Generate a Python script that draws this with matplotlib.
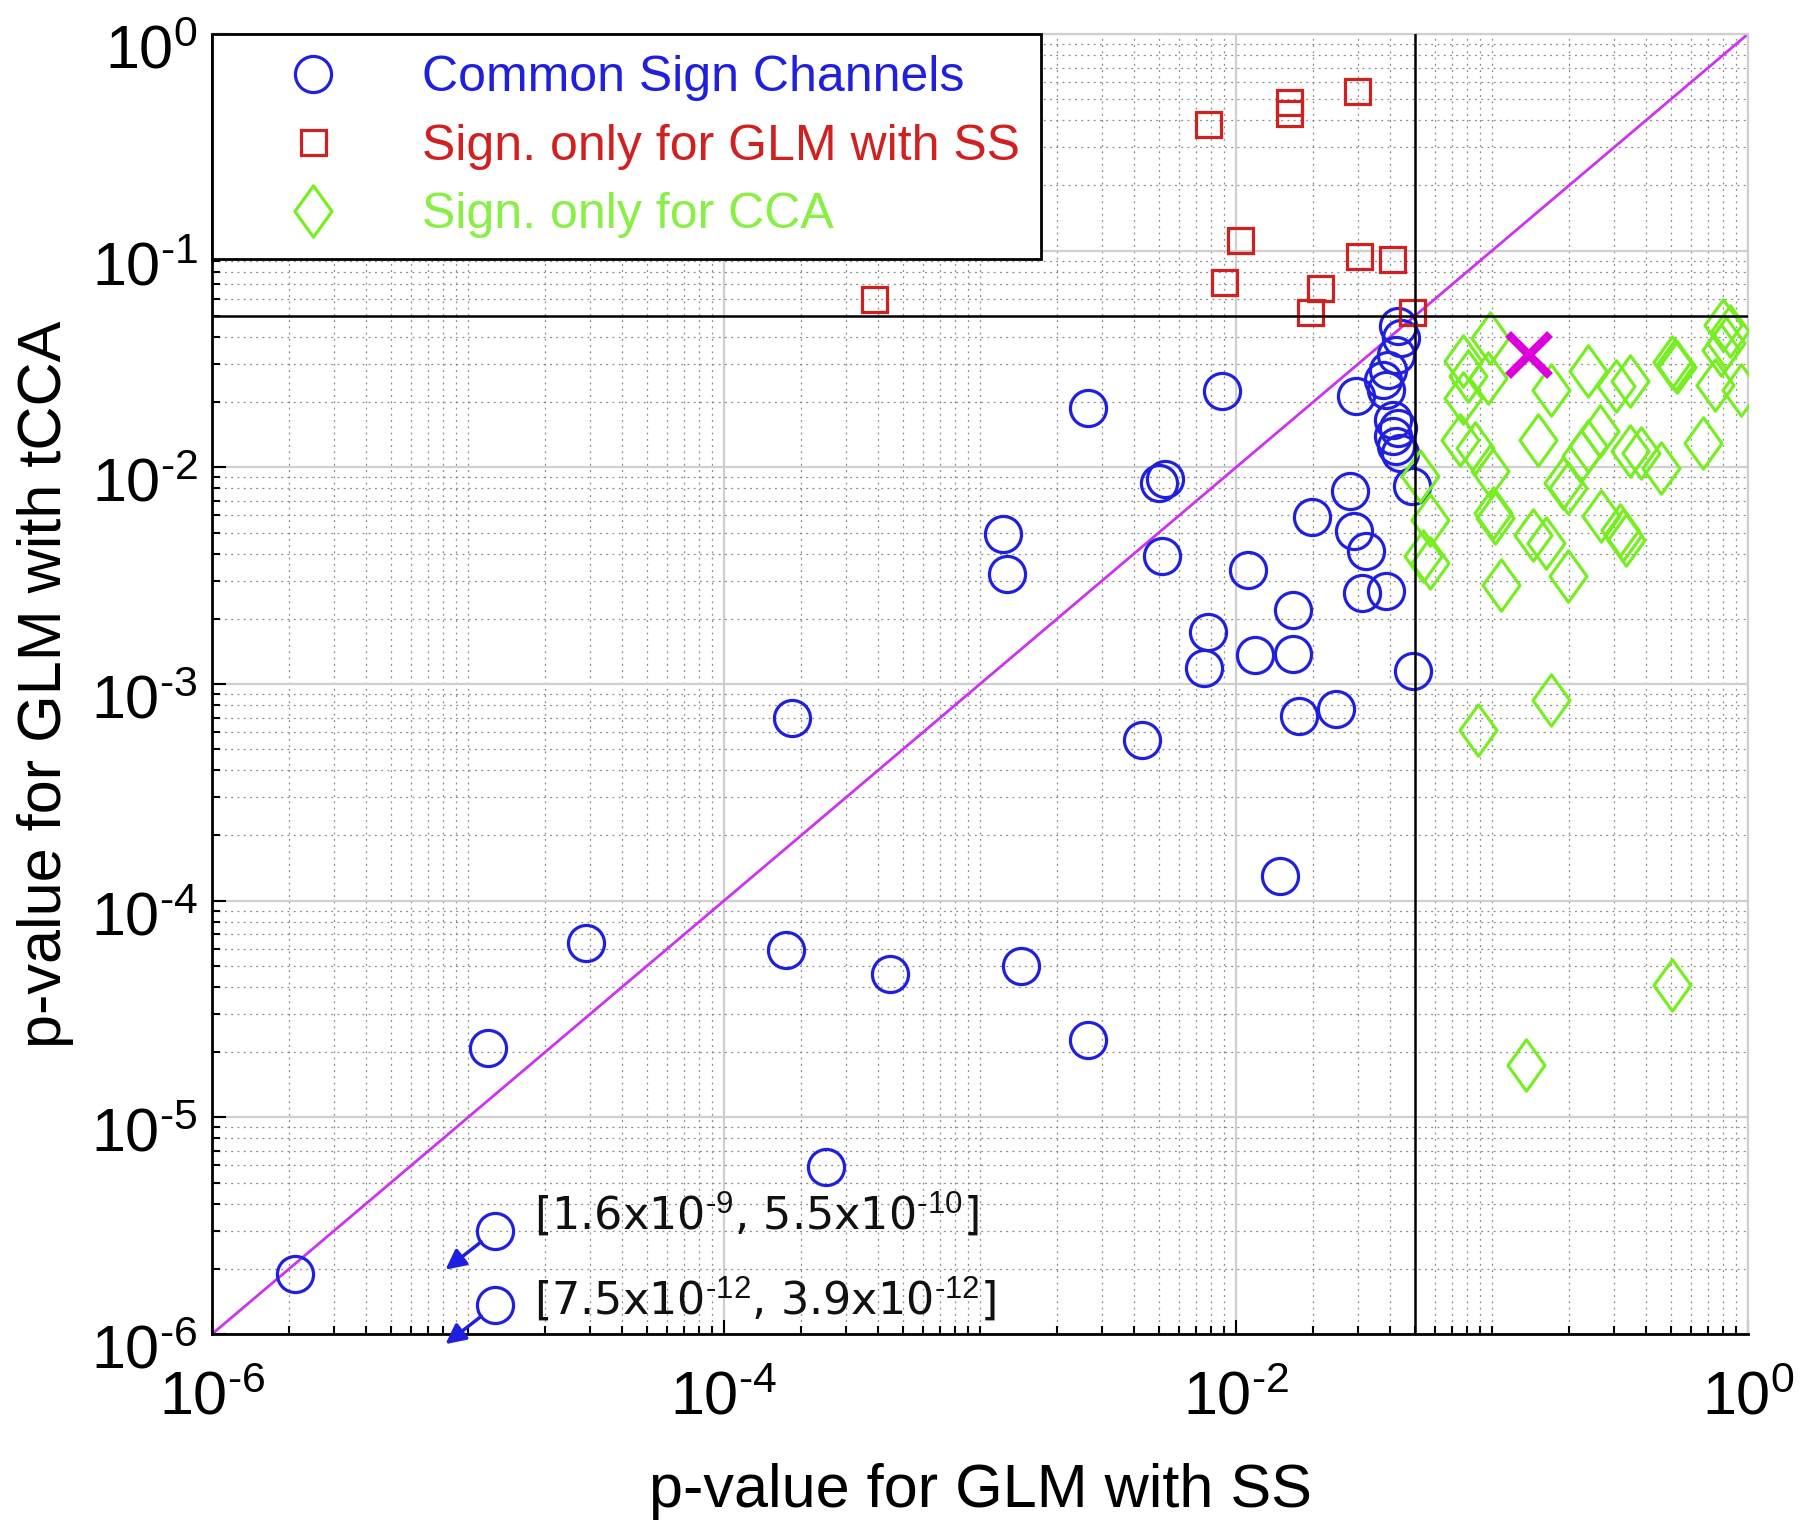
import numpy as np
import matplotlib
matplotlib.use('Agg')
import matplotlib.pyplot as plt
from matplotlib.lines import Line2D
from matplotlib.path import Path
from matplotlib.patches import FancyArrowPatch
from matplotlib.transforms import ScaledTranslation
from matplotlib.ticker import LogLocator, NullFormatter, FuncFormatter

plt.rcParams['font.family'] = ['Liberation Sans', 'DejaVu Sans']
plt.rcParams['axes.unicode_minus'] = False
plt.rcParams['mathtext.fontset'] = 'custom'
plt.rcParams['mathtext.rm'] = 'Liberation Sans'

# common significant channels (GLM with SS p-value, tCCA p-value)
common_x = [2.1e-6, 1.2e-5, 2.9e-5, 2.5e-4, 1.75e-4, 1.84e-4, 4.47e-4, 1.45e-3, 2.64e-3,
            1.23e-3, 1.28e-3, 2.64e-3, 5.0e-3, 5.27e-3, 5.14e-3, 4.28e-3, 8.8e-3, 7.8e-3,
            7.5e-3, 1.11e-2, 1.19e-2, 1.48e-2, 1.67e-2, 1.67e-2, 1.76e-2, 1.98e-2, 2.45e-2,
            2.78e-2, 2.9e-2, 3.21e-2, 3.1e-2, 3.87e-2, 4.91e-2, 4.85e-2,
            0.0430, 0.0442, 0.0423, 0.0392, 0.0375, 0.0387, 0.0295, 0.0410, 0.0430, 0.0410,
            0.0423, 0.0436]
common_y = [1.9e-6, 2.09e-5, 6.4e-5, 5.9e-6, 5.9e-5, 6.95e-4, 4.57e-5, 4.98e-5, 2.28e-5,
            4.95e-3, 3.23e-3, 1.87e-2, 8.47e-3, 8.8e-3, 3.88e-3, 5.5e-4, 2.25e-2, 1.73e-3,
            1.19e-3, 3.35e-3, 1.36e-3, 1.3e-4, 2.19e-3, 1.37e-3, 7.1e-4, 5.87e-3, 7.65e-4,
            7.78e-3, 5.07e-3, 4.12e-3, 2.63e-3, 2.69e-3, 1.15e-3, 8.2e-3,
            0.0448, 0.0396, 0.0331, 0.0282, 0.0254, 0.0228, 0.0213, 0.0166, 0.0152, 0.0139,
            0.0125, 0.0117]

# two channels far below the axis range, drawn at the edge with an arrow
offscale_x = [1.28e-5, 1.28e-5]
offscale_y = [3.0e-6, 1.36e-6]
offscale_labels = [r'[1.6x10$^{\text{-}9}$, 5.5x10$^{\text{-}10}$]',
                   r'[7.5x10$^{\text{-}12}$, 3.9x10$^{\text{-}12}$]']

# significant only for GLM with SS
glm_x = [3.87e-4, 7.8e-3, 0.0161, 0.0161, 0.0296, 0.0104, 9.0e-3, 0.0212, 0.0194,
         0.0302, 0.0407, 0.0485]
glm_y = [0.0597, 0.386, 0.487, 0.431, 0.543, 0.1125, 0.0717, 0.0674, 0.0522,
         0.0949, 0.0915, 0.0522]

# significant only for CCA
cca_x = [0.0770, 0.0805, 0.0978, 0.0964, 0.0770, 0.1703, 0.2371, 0.3059, 0.3449, 0.5058,
         0.5164, 0.5272, 0.7985, 0.848, 0.822, 0.786, 0.740, 0.9419, 0.0747, 0.0855,
         0.1511, 0.2632, 0.2371, 0.2233, 0.3449, 0.3828, 0.4585, 0.6666, 0.0978, 0.0522,
         0.1893, 0.1977, 0.0571, 0.1008, 0.1023, 0.1444, 0.1630, 0.2673, 0.3152, 0.3245,
         0.3347, 0.1977, 0.0537, 0.0571, 0.1086, 0.1697, 0.0879, 0.5028, 0.1354]
cca_y = [0.0309, 0.02635, 0.0396, 0.0259, 0.0209, 0.0228, 0.0277, 0.02366, 0.02494, 0.0305,
         0.02978, 0.02905, 0.0456, 0.0424, 0.0375, 0.0349, 0.02407, 0.0228, 0.01342, 0.01229,
         0.01342, 0.01467, 0.01252, 0.01124, 0.01185, 0.01165, 0.00993, 0.01292, 0.00958, 0.00911,
         0.00847, 0.00803, 0.00573, 0.00617, 0.00584, 0.00489, 0.00447, 0.00595, 0.00516, 0.00489,
         0.00464, 0.00314, 0.00388, 0.00362, 0.00287, 0.000846, 0.000615, 4.09e-5, 1.75e-5]

special_x = [0.140]
special_y = [0.0331]

alpha_level = 0.05

blue = '#1f1fe0'
red = '#d02020'
green = '#77ee22'
magenta = '#dd00dd'

diamond = Path([(0, 1), (0.72, 0), (0, -1), (-0.72, 0), (0, 1)],
               [Path.MOVETO, Path.LINETO, Path.LINETO, Path.LINETO, Path.CLOSEPOLY])


def pow_label(v, pos):
    e = int(round(np.log10(v)))
    if e < 0:
        return r'$\mathdefault{10^{\text{-}%d}}$' % (-e)
    return r'$\mathdefault{10^{%d}}$' % e


fig = plt.figure(figsize=(18, 15.32), dpi=100, facecolor='white')
ax = fig.add_axes([0.1178, 0.1292, 0.8533, 0.8486])
ax.set_xscale('log')
ax.set_yscale('log')
ax.set_xlim(1e-6, 1)
ax.set_ylim(1e-6, 1)

ax.xaxis.set_major_locator(LogLocator(base=100))
ax.xaxis.set_minor_locator(LogLocator(base=10, subs=np.arange(1, 10), numticks=20))
ax.yaxis.set_major_locator(LogLocator(base=10, numticks=20))
ax.yaxis.set_minor_locator(LogLocator(base=10, subs=np.arange(2, 10), numticks=20))
ax.xaxis.set_major_formatter(FuncFormatter(pow_label))
ax.yaxis.set_major_formatter(FuncFormatter(pow_label))
ax.xaxis.set_minor_formatter(NullFormatter())
ax.yaxis.set_minor_formatter(NullFormatter())

ax.grid(True, which='major', color='#cfcfcf', lw=1.6, ls='-', zorder=0)
ax.grid(True, which='minor', color='#8a8a8a', lw=0.9, ls=(0, (1.5, 3.5)), zorder=0)
ax.set_axisbelow(True)

ax.tick_params(which='both', direction='in', top=False, right=False, width=1.5)
ax.tick_params(which='major', length=10, labelsize=44)
ax.tick_params(axis='x', which='major', pad=26)
ax.tick_params(axis='y', which='major', pad=10)
ax.tick_params(which='minor', length=6)
for s in ['left', 'bottom']:
    ax.spines[s].set_linewidth(2)
    ax.spines[s].set_color('black')
for s in ['top', 'right']:
    ax.spines[s].set_linewidth(1.6)
    ax.spines[s].set_color('#cfcfcf')

ax.plot([1e-6, 1], [1e-6, 1], color='#cc33ee', lw=2, zorder=2)

ax.plot(common_x, common_y, ls='none', marker='o', ms=26, mfc='none', mec=blue, mew=2.3, zorder=3)
ax.plot(offscale_x, offscale_y, ls='none', marker='o', ms=26, mfc='none', mec=blue, mew=2.3,
        zorder=3, clip_on=False)
ax.plot(glm_x, glm_y, ls='none', marker='s', ms=18, mfc='none', mec=red, mew=2.3, zorder=3)
ax.plot(cca_x, cca_y, ls='none', marker=diamond, ms=37, mfc='none', mec=green, mew=2.3, zorder=3)
ax.plot(special_x, special_y, ls='none', marker='x', ms=30, mec=magenta, mew=6, zorder=4)

ax.axvline(alpha_level, color='black', lw=1.8, zorder=4)
ax.axhline(alpha_level, color='black', lw=1.8, zorder=4)

# arrows pointing down-left from the edge markers, plus their true values
to_data = ax.transData.inverted()
for xv, yv, lab, dy in zip(offscale_x, offscale_y, offscale_labels, [17, 6]):
    px, py = ax.transData.transform((xv, yv))
    tip = to_data.transform((px - 50, py - 39))
    ax.add_patch(FancyArrowPatch((xv, yv), tuple(tip), arrowstyle='-|>', color=blue, lw=2.5,
                                 mutation_scale=30, shrinkA=13, shrinkB=0, clip_on=False,
                                 zorder=5))
    tx, ty = to_data.transform((px + 39, py + dy))
    ax.text(tx, ty, lab, fontsize=32, family=['DejaVu Sans'], va='center', ha='left',
            color='#111111', zorder=5)

ax.set_xlabel('p-value for GLM with SS', fontsize=44, labelpad=26)
ax.set_ylabel('p-value for GLM with tCCA', fontsize=44, labelpad=12)

handles = [
    Line2D([], [], ls='none', marker='o', ms=26, mfc='none', mec=blue, mew=2.3),
    Line2D([], [], ls='none', marker='s', ms=18, mfc='none', mec=red, mew=2.3),
    Line2D([], [], ls='none', marker=diamond, ms=37, mfc='none', mec=green, mew=2.3),
]
labels = ['Common Sign Channels', 'Sign. only for GLM with SS', 'Sign. only for CCA']
leg = ax.legend(handles, labels, loc='upper left', bbox_to_anchor=(0, 1), borderaxespad=0,
                fontsize=36, frameon=True, fancybox=False, framealpha=1, edgecolor='black',
                borderpad=0.42, labelspacing=0.45, handlelength=3.18, handletextpad=0.6,
                numpoints=1)
leg.get_frame().set_linewidth(2)
leg.set_zorder(10)
for txt, c in zip(leg.get_texts(), [blue, red, '#88f044']):
    txt.set_color(c)

# y tick labels sit a little below their ticks in the original
fig.canvas.draw()
shift = ScaledTranslation(0, -9 / 72, fig.dpi_scale_trans)
for t in ax.yaxis.get_major_ticks():
    t.label1.set_transform(t.label1.get_transform() + shift)

fig.savefig('out.png', dpi=100, facecolor='white')
